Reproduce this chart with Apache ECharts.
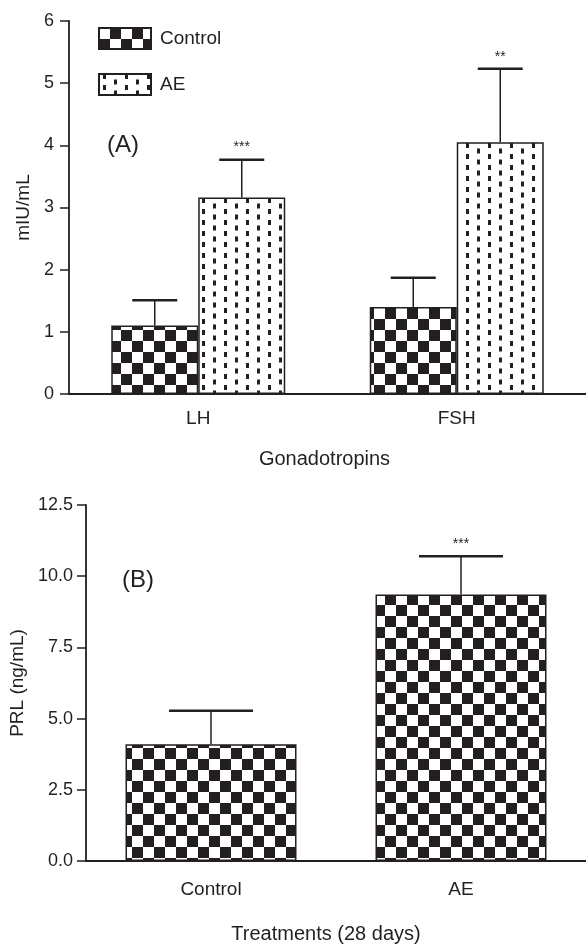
<!DOCTYPE html>
<html>
<head>
<meta charset="utf-8">
<title>Gonadotropins and PRL</title>
<script src="https://cdn.jsdelivr.net/npm/echarts@6/dist/echarts.min.js"></script>
<style>
  html, body { margin: 0; padding: 0; background: #fff; }
  #chart { width: 586px; height: 945px; }
</style>
</head>
<body>
<div id="chart"></div>
<script>
// panel A: gonadotropins
const hormones = ["LH", "FSH"];
const controlMean = [1.10, 1.40];
const controlSem = [0.41, 0.47];
const aeMean = [3.16, 4.05];
const aeSem = [0.61, 1.18];
const controlSig = ["", ""];
const aeSig = ["***", "**"];

// panel B: prolactin
const treatments = ["Control", "AE"];
const prlMean = [4.10, 9.36];
const prlSem = [1.18, 1.34];
const prlSig = ["", "***"];

const ink = "#231f20";
const font = "Liberation Sans, Arial, sans-serif";

function checkerPattern(size) {
  const c = document.createElement("canvas");
  c.width = size * 2;
  c.height = size * 2;
  const ctx = c.getContext("2d");
  ctx.fillStyle = "#fff";
  ctx.fillRect(0, 0, c.width, c.height);
  ctx.fillStyle = ink;
  ctx.fillRect(size, 0, size, size);
  ctx.fillRect(0, size, size, size);
  return { image: c, repeat: "repeat" };
}

function dashPattern(step) {
  const c = document.createElement("canvas");
  c.width = step * 2;
  c.height = step;
  const ctx = c.getContext("2d");
  ctx.fillStyle = "#fff";
  ctx.fillRect(0, 0, c.width, c.height);
  ctx.fillStyle = ink;
  ctx.fillRect(4, 0, 3, 5);
  ctx.fillRect(step + 4, step / 2, 3, 5);
  return { image: c, repeat: "repeat" };
}

const checker = checkerPattern(11);
const dashes = dashPattern(11);

function errorBars(name, gridIdx, means, sems, sigs, offset, capWidth) {
  return {
    type: "custom",
    name: name,
    xAxisIndex: gridIdx,
    yAxisIndex: gridIdx,
    z: 5,
    silent: true,
    data: means.map((m, i) => [i, m, sems[i]]),
    renderItem(params, api) {
      const base = api.coord([api.value(0), api.value(1)]);
      const top = api.coord([api.value(0), api.value(1) + api.value(2)]);
      const x = base[0] + offset;
      return {
        type: "group",
        children: [
          { type: "line", shape: { x1: x, y1: base[1], x2: x, y2: top[1] },
            style: { stroke: ink, lineWidth: 1.5 } },
          { type: "line", shape: { x1: x - capWidth / 2, y1: top[1], x2: x + capWidth / 2, y2: top[1] },
            style: { stroke: ink, lineWidth: 2.5 } },
          { type: "text", x: x, y: top[1] - 5,
            style: { text: sigs[params.dataIndex], align: "center", verticalAlign: "bottom",
                     fontSize: 14, fontFamily: font, fill: ink } },
        ],
      };
    },
  };
}

const axisLine = { lineStyle: { color: ink, width: 1.8 } };
const axisTick = { length: 9, lineStyle: { color: ink, width: 1.5 } };
const labelStyle = { color: ink, fontSize: 18, fontFamily: font };

const chart = echarts.init(document.getElementById("chart"), null, { renderer: "canvas" });

chart.setOption({
  animation: false,
  backgroundColor: "#fff",
  title: [
    { text: "(A)", left: 102, top: 128, textStyle: { color: ink, fontSize: 24, fontWeight: "normal", fontFamily: font } },
    { text: "(B)", left: 117, top: 563, textStyle: { color: ink, fontSize: 24, fontWeight: "normal", fontFamily: font } },
  ],
  legend: {
    data: ["Control", "AE"],
    orient: "vertical",
    left: 93,
    top: 22,
    itemWidth: 52,
    itemHeight: 21,
    itemGap: 23,
    icon: "rect",
    selectedMode: false,
    textStyle: { color: ink, fontSize: 19, fontFamily: font, padding: [0, 0, 0, 4] },
  },
  grid: [
    { left: 69, top: 21, width: 530, height: 373 },
    { left: 86, top: 505, width: 507, height: 358 },
  ],
  xAxis: [
    {
      type: "category", gridIndex: 0, data: hormones,
      axisLine, axisTick: { ...axisTick, alignWithLabel: true },
      axisLabel: { ...labelStyle, fontSize: 19, margin: 15 },
      name: "Gonadotropins", nameLocation: "middle", nameGap: 55,
      nameTextStyle: { color: ink, fontSize: 20, fontFamily: font, padding: [0, 6, 0, 0] },
    },
    {
      type: "category", gridIndex: 1, data: treatments,
      axisLine, axisTick: { ...axisTick, length: 10, alignWithLabel: true },
      axisLabel: { ...labelStyle, fontSize: 19, margin: 19 },
      name: "Treatments (28 days)", nameLocation: "middle", nameGap: 63,
      nameTextStyle: { color: ink, fontSize: 20, fontFamily: font, padding: [0, 20, 0, 0] },
    },
  ],
  yAxis: [
    {
      type: "value", gridIndex: 0, min: 0, max: 6, interval: 1,
      axisLine: { ...axisLine, show: true }, axisTick: { ...axisTick, show: true },
      axisLabel: { ...labelStyle, margin: 15 },
      splitLine: { show: false },
      name: "mIU/mL", nameLocation: "middle", nameGap: 35,
      nameTextStyle: { color: ink, fontSize: 19, fontFamily: font },
    },
    {
      type: "value", gridIndex: 1, min: 0, max: 12.5, interval: 2.5,
      axisLine: { ...axisLine, show: true }, axisTick: { ...axisTick, show: true },
      axisLabel: { ...labelStyle, margin: 13, formatter: (v) => v.toFixed(1) },
      splitLine: { show: false },
      name: "PRL (ng/mL)", nameLocation: "middle", nameGap: 56,
      nameTextStyle: { color: ink, fontSize: 19, fontFamily: font },
    },
  ],
  series: [
    {
      name: "Control", type: "bar", xAxisIndex: 0, yAxisIndex: 0,
      barWidth: 87, barGap: "0%",
      itemStyle: { color: checker, borderColor: ink, borderWidth: 1.5 },
      data: controlMean,
    },
    {
      name: "AE", type: "bar", xAxisIndex: 0, yAxisIndex: 0,
      barWidth: 87, barGap: "0%",
      itemStyle: { color: dashes, borderColor: ink, borderWidth: 1.5 },
      data: aeMean,
    },
    errorBars("Control SEM", 0, controlMean, controlSem, controlSig, -43.5, 45),
    errorBars("AE SEM", 0, aeMean, aeSem, aeSig, 43.5, 45),
    {
      name: "PRL", type: "bar", xAxisIndex: 1, yAxisIndex: 1,
      barWidth: 171,
      itemStyle: { color: checker, borderColor: ink, borderWidth: 1.5 },
      data: prlMean,
    },
    errorBars("PRL SEM", 1, prlMean, prlSem, prlSig, 0, 84),
  ],
});
</script>
</body>
</html>
